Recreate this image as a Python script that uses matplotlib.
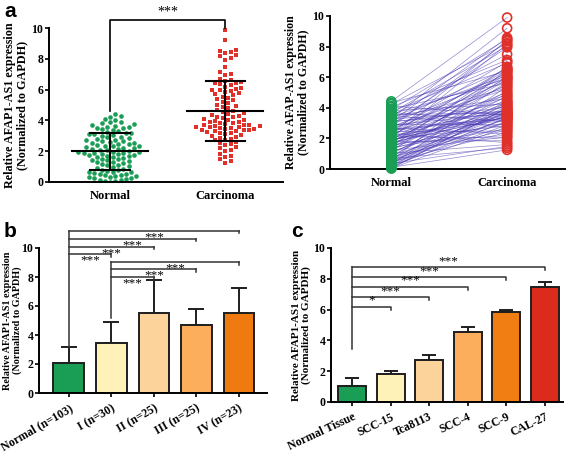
import numpy as np
import matplotlib
matplotlib.use("Agg")
import matplotlib.pyplot as plt

plt.rcParams['font.family'] = 'Liberation Serif'
plt.rcParams['font.weight'] = 'bold'
plt.rcParams['axes.labelweight'] = 'bold'

# ---- data ----
# panel a: paired expression, patient order (index i in both lists = same patient)
normal_vals = [4.42, 4.31, 4.25, 4.12, 4.05, 3.92, 3.88, 3.81, 3.74, 3.70,
               3.66, 3.58, 3.52, 3.49, 3.45, 3.38, 3.30, 3.26, 3.21, 3.15,
               3.10, 3.06, 3.01, 2.95, 2.90, 2.86, 2.80, 2.75, 2.71, 2.66,
               2.60, 2.55, 2.50, 2.46, 2.41, 2.36, 2.31, 2.28, 2.24, 2.20,
               2.15, 2.11, 2.07, 2.03, 1.98, 1.95, 1.91, 1.88, 1.84, 1.80,
               1.76, 1.72, 1.68, 1.65, 1.61, 1.57, 1.52, 1.48, 1.44, 1.40,
               1.35, 1.31, 1.27, 1.22, 1.18, 1.13, 1.08, 1.02, 0.96, 0.90,
               0.85, 0.80, 0.76, 0.72, 0.68, 0.64, 0.60, 0.55, 0.51, 0.47,
               0.43, 0.39, 0.35, 0.31, 0.27, 0.23, 0.19, 0.15, 0.11, 0.08,
               0.05, 0.03, 2.52, 2.33, 1.93, 1.86, 2.68, 3.12, 2.12, 1.74,
               0.62, 0.37, 3.55]
carcinoma_vals = [9.90, 6.40, 8.22, 3.52, 7.12, 5.62, 8.50, 4.25, 6.92, 3.10,
                  8.05, 5.90, 2.70, 7.50, 4.62, 6.12, 9.20, 3.80, 5.30, 6.55,
                  8.58, 4.05, 6.00, 2.95, 7.95, 3.66, 5.22, 8.35, 4.40, 6.28,
                  3.32, 5.78, 7.02, 2.48, 4.85, 6.45, 3.88, 8.42, 5.48, 3.20,
                  6.62, 4.15, 3.58, 8.15, 5.02, 2.82, 6.20, 3.70, 4.70, 1.85,
                  5.95, 3.40, 6.35, 2.20, 4.30, 5.55, 3.00, 6.68, 4.52, 2.62,
                  5.85, 3.46, 4.92, 2.10, 6.05, 3.62, 4.20, 1.60, 5.10, 3.25,
                  4.78, 2.55, 5.70, 3.92, 1.38, 4.45, 3.05, 6.50, 3.55, 2.40,
                  4.10, 3.72, 1.48, 5.40, 3.36, 2.88, 4.35, 3.15, 1.25, 3.98,
                  2.75, 4.00, 3.30, 1.72, 3.50, 3.85, 2.30, 3.60, 2.02, 3.42,
                  3.76, 3.35, 3.68]
groups_a = ['Normal', 'Carcinoma']

# panel b: clinical stages
stage_labels = ['Normal (n=103)', 'I (n=30)', 'II (n=25)', 'III (n=25)', 'IV (n=23)']
stage_means = [2.05, 3.45, 5.50, 4.70, 5.55]
stage_sd = [1.15, 1.45, 2.28, 1.08, 1.68]
stage_colors = ['#1a9e55', '#fff2b8', '#fdd39c', '#fdae5c', '#ef7b10']
# (from, to, line height, label)
stage_sig = [(0, 1, 9.6, '***'), (0, 2, 10.1, '***'), (0, 3, 10.65, '***'), (0, 4, 11.2, '***'),
             (1, 2, 8.0, '***'), (1, 3, 8.55, '***'), (1, 4, 9.05, '***')]

# panel c: cell lines
cell_labels = ['Normal Tissue', 'SCC-15', 'Tca8113', 'SCC-4', 'SCC-9', 'CAL-27']
cell_means = [1.03, 1.82, 2.75, 4.57, 5.86, 7.45]
cell_sd = [0.55, 0.2, 0.33, 0.3, 0.14, 0.32]
cell_colors = ['#1a9e55', '#fff2b8', '#fdd39c', '#fdae5c', '#f07e12', '#da2b1d']
cell_sig = [(0, 1, 6.2, '*'), (0, 2, 6.8, '***'), (0, 3, 7.5, '***'), (0, 4, 8.1, '***'), (0, 5, 8.75, '***')]

GREEN = '#1a9e55'
RED = '#e0302a'
W, H = 567, 453


def style_axis(ax, ylabel, lsize):
    for s in ['top', 'right']:
        ax.spines[s].set_visible(False)
    for s in ['left', 'bottom']:
        ax.spines[s].set_linewidth(1.4)
    ax.set_ylim(0, 10)
    ax.set_yticks([0, 2, 4, 6, 8, 10])
    ax.tick_params(axis='y', length=3, width=1.2, labelsize=8.5, pad=1)
    ax.tick_params(axis='x', length=3, width=1.2, labelsize=8.5)
    ax.set_ylabel(ylabel, fontsize=lsize, fontweight='bold', linespacing=1.05, labelpad=2)


def swarm(values, xc, ax_w_px, xrange, yscale_px, diam=4.8):
    """ simple beeswarm: place points so that they don't overlap (in pixels) """
    px_per_x = ax_w_px / xrange
    order = np.argsort(values)
    placed = []
    xs = np.zeros(len(values))
    for i in order:
        y = values[i] * yscale_px
        k = 0
        while True:
            step = (k + 1) // 2 * (1 if k % 2 else -1)
            xo = step * diam * 0.55
            ok = all((xo - px) ** 2 + (y - py) ** 2 >= diam ** 2 for px, py in placed)
            if ok:
                break
            k += 1
        placed.append((xo, y))
        xs[i] = xc + xo / px_per_x
    return xs


fig = plt.figure(figsize=(W / 100, H / 100), dpi=100)

# ---- panel a, left: scatter with mean +/- SD ----
ax1 = fig.add_axes([49 / W, 1 - 182 / H, 234 / W, 154 / H])
style_axis(ax1, 'Relative AFAP1-AS1 expression\n(Normalized to GAPDH)', 8.7)
xlim_a = (-0.53, 1.5)
ax1.set_xlim(*xlim_a)
ax1.set_xticks([0, 1])
ax1.set_xticklabels(groups_a, fontsize=9)
ax1.tick_params(axis='x', length=0, pad=6)
for j, (vals, col, mk) in enumerate([(normal_vals, GREEN, 'o'), (carcinoma_vals, RED, 's')]):
    vals = np.array(vals)
    xs = swarm(vals, j, 234, xlim_a[1] - xlim_a[0], 15.4)
    ax1.scatter(xs, vals, s=11, marker=mk, color=col, linewidths=0, zorder=2)
    m, sd = vals.mean(), vals.std(ddof=1)
    ax1.plot([j - 0.33, j + 0.33], [m, m], color='black', lw=1.5, zorder=3)
    ax1.plot([j - 0.17, j + 0.17], [m + sd, m + sd], color='black', lw=1.5, zorder=3)
    ax1.plot([j - 0.17, j + 0.17], [m - sd, m - sd], color='black', lw=1.5, zorder=3)
    ax1.plot([j, j], [m - sd, m + sd], color='black', lw=1.5, zorder=3)
ax1.plot([0, 0, 1, 1], [4.6, 10.5, 10.5, 10.0], color='black', lw=1.2, clip_on=False)
ax1.text(0.5, 10.6, '***', ha='center', va='bottom', fontsize=10, fontweight='normal')

# ---- panel a, right: paired lines ----
ax2 = fig.add_axes([330 / W, 1 - 169 / H, 235 / W, 153 / H])
style_axis(ax2, 'Relative AFAP-AS1 expression\n(Normalized to GAPDH)', 8.5)
ax2.set_xlim(-0.53, 1.5)
ax2.set_xticks([0, 1])
ax2.set_xticklabels(groups_a, fontsize=9)
ax2.tick_params(axis='x', length=0, pad=6)
for n, c in zip(normal_vals, carcinoma_vals):
    ax2.plot([0, 1], [n, c], color='#4a3ab4', lw=0.5, alpha=0.6, zorder=1)
ax2.scatter(np.zeros(len(normal_vals)), normal_vals, s=42, facecolors='none',
            edgecolors=GREEN, linewidths=1.2, zorder=3, clip_on=False)
ax2.scatter(np.ones(len(carcinoma_vals)), carcinoma_vals, s=42, facecolors='none',
            edgecolors=RED, linewidths=1.2, zorder=3, clip_on=False)

# ---- panel b: stages ----
ax3 = fig.add_axes([39 / W, 1 - 393 / H, 228 / W, 145 / H])
style_axis(ax3, 'Relative AFAP1-AS1 expression\n(Normalized to GAPDH)', 7.3)
ax3.yaxis.labelpad = 0
xb = np.arange(len(stage_labels))
ax3.bar(xb, stage_means, width=0.72, color=stage_colors, edgecolor='#1e1e1e', linewidth=1.4, zorder=2)
ax3.errorbar(xb, stage_means, yerr=[np.zeros(len(xb)), stage_sd], fmt='none', ecolor='#1e1e1e',
             elinewidth=1.4, capsize=5.5, capthick=1.4, zorder=1)
ax3.set_xlim(-0.7, 4.66)
ax3.set_xticks(xb)
ax3.set_xticklabels(stage_labels, rotation=30, ha='right', rotation_mode='anchor', fontsize=8.5)
for a, b, h, txt in stage_sig:
    ax3.plot([b, b], [h - 0.2, h], color='#333333', lw=1.1, clip_on=False)
    ax3.plot([a, b], [h, h], color='#333333', lw=1.1, clip_on=False)
    ax3.text((a + b) / 2, h - 0.05, txt, ha='center', va='top', fontsize=9.5, fontweight='normal')
ax3.plot([0, 0], [3.2, 11.2], color='#333333', lw=1.1, clip_on=False)
ax3.plot([1, 1], [5.15, 9.05], color='#333333', lw=1.1, clip_on=False)

# ---- panel c: cell lines ----
ax4 = fig.add_axes([331 / W, 1 - 402 / H, 232 / W, 154 / H])
style_axis(ax4, 'Relative AFAP1-AS1 expression\n(Normalized to GAPDH)', 8)
xc = np.arange(len(cell_labels))
ax4.bar(xc, cell_means, width=0.72, color=cell_colors, edgecolor='#1e1e1e', linewidth=1.4, zorder=2)
ax4.errorbar(xc, cell_means, yerr=[np.zeros(len(xc)), cell_sd], fmt='none', ecolor='#1e1e1e',
             elinewidth=1.4, capsize=5, capthick=1.4, zorder=1)
ax4.set_xlim(-0.55, 5.47)
ax4.set_xticks(xc)
ax4.set_xticklabels(cell_labels, rotation=25, ha='right', rotation_mode='anchor', fontsize=8.5)
for a, b, h, txt in cell_sig:
    ax4.plot([a, b, b], [h, h, h - 0.2], color='#333333', lw=1.1)
    ax4.text((a + b) / 2, h + 0.02, txt, ha='center', va='bottom', fontsize=9.5, fontweight='normal')
ax4.plot([0, 0], [3.45, 8.75], color='#333333', lw=1.1)

# panel letters
for x, y, s in [(4, 2, 'a'), (4, 222, 'b'), (291, 222, 'c')]:
    fig.text(x / W, 1 - y / H, s, family='Liberation Sans', fontweight='bold', fontsize=15,
             ha='left', va='top')

fig.savefig('out.png', dpi=100)
